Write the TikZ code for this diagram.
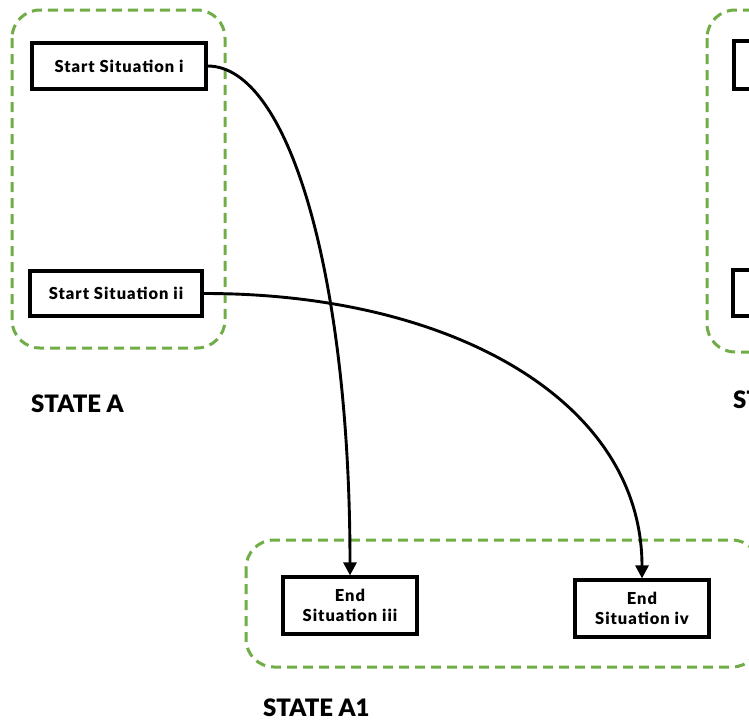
\documentclass[tikz,border=0pt]{standalone}
\usepackage{fontspec}
\setmainfont{Lato}[BoldFont={Lato Black}]
\usetikzlibrary{arrows.meta}
\definecolor{stategreen}{RGB}{112,173,71}
\tikzset{
  statebox/.style={draw=stategreen, line width=3pt, dash pattern=on 10pt off 6pt, rounded corners=28pt},
  sitbox/.style={draw=black, line width=3.2pt, fill=white, inner sep=0pt, font=\bfseries\fontsize{16.5}{20}\selectfont\addfontfeatures{LetterSpace=6}, align=center},
  statelabel/.style={font=\bfseries\fontsize{24}{28}\selectfont, inner sep=0pt},
  flow/.style={draw=black, line width=2.9pt, -{Triangle[length=13pt,width=13pt]}},
}
\begin{document}
\begin{tikzpicture}[x=1pt,y=-1pt]
\useasboundingbox (0,0) rectangle (749,721);
\clip (0,0) rectangle (749,721);

% state containers
\draw[statebox] (12,10) rectangle (225,348);
\draw[statebox] (246,540) rectangle (760,667);
\draw[statebox] (707,10) rectangle (940,352);

% situations of state A
\node[sitbox, minimum width=174pt, minimum height=46pt] (si) at (119,66) {Start Situation i};
\node[sitbox, minimum width=172pt, minimum height=45pt] (sii) at (116,293.5) {Start Situation ii};

% situations of state A1
\node[sitbox, minimum width=134pt, minimum height=57pt] (eiii) at (350,605.5) {End\\Situation iii};
\node[sitbox, minimum width=134pt, minimum height=57pt] (eiv) at (642,608.5) {End\\Situation iv};

% situations of the third state
\node[sitbox, minimum width=174pt, minimum height=48pt] (ri) at (821,65) {};
\node[sitbox, minimum width=174pt, minimum height=46pt] (rii) at (820,293) {};

% state labels
\node[statelabel, anchor=west] (la) at (31,403.5) {STATE A};
\node[statelabel, anchor=west] (la1) at (263,708) {STATE A1};
\node[statelabel, anchor=west] (lb) at (733,400) {ST};

% transitions
\draw[flow] (si.east) .. controls (290,66) and (350,280) .. (eiii.north);
\draw[flow] (sii.east) .. controls (450,293) and (642,400) .. (eiv.north);
\end{tikzpicture}
\end{document}
